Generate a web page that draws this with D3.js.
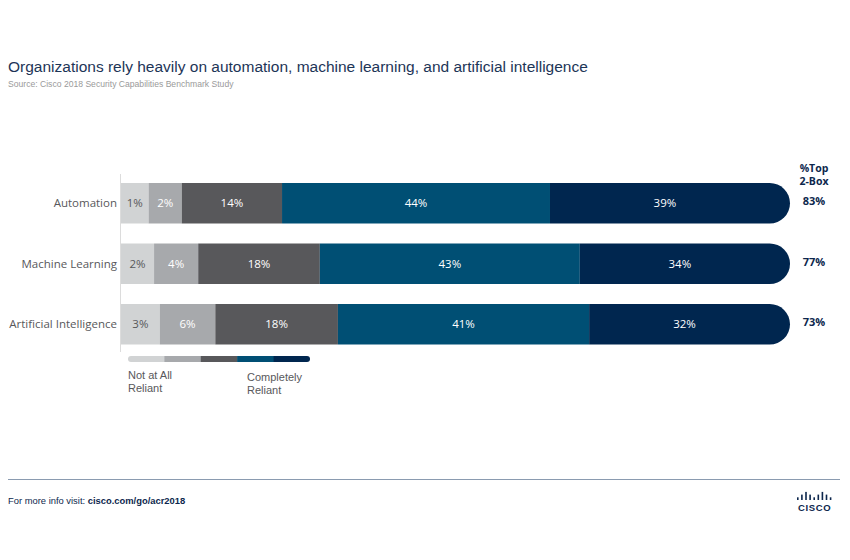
<!DOCTYPE html>
<html lang="en">
<head>
  <meta charset="UTF-8">
  <title>Organizations rely heavily on automation, machine learning, and artificial intelligence</title>
  <style>
    * {
      box-sizing: border-box;
      margin: 0;
    }
    body {
      background: #fff;
      font-family: "Liberation Sans", Arial, sans-serif;
    }
    svg {
      display: block;
    }
    .title {
      fill: #1d3557;
      font-size: 15.5px;
    }
    .subtitle {
      fill: #9a9a9a;
      font-size: 8.6px;
    }
    .cat {
      fill: #58585b;
      font: 11.5px "Open Sans", sans-serif;
    }
    .seg-label {
      font: 11.5px "Open Sans", sans-serif;
    }
    .top2 {
      fill: #0d274d;
      font: bold 11px "Open Sans", sans-serif;
    }
    .top2-head {
      fill: #0d274d;
      font: bold 10.5px "Open Sans", sans-serif;
    }
    .legend-text {
      fill: #58585b;
      font: 11px "Liberation Sans", Arial, sans-serif;
    }
    .footer {
      fill: #0d274d;
      font-size: 9.4px;
    }
  </style>
</head>
<body>
  <svg></svg>
  <script src="https://d3js.org/d3.v7.min.js"></script>
  <script>
    const categories = ['Automation', 'Machine Learning', 'Artificial Intelligence'];
    const levels = ['Not at All Reliant', '2', '3', '4', 'Completely Reliant'];
    const notAtAll = [1, 2, 3];
    const level2 = [2, 4, 6];
    const level3 = [14, 18, 18];
    const level4 = [44, 43, 41];
    const completely = [39, 34, 32];
    const topTwoBox = [83, 77, 73];
    const colors = ['#d1d3d4', '#a7a9ac', '#58585b', '#004f74', '#00264f'];
    const labelColors = ['#58585b', '#fff', '#fff', '#fff', '#fff'];
    const logoBars = [1, 2, 3, 2, 1, 2, 3, 2, 1];

    const width = 850;
    const height = 560;
    const svg = d3.select('svg')
      .attr('width', width)
      .attr('height', height);

    // title block
    svg.append('text').attr('class', 'title')
      .attr('x', 8).attr('y', 72)
      .text('Organizations rely heavily on automation, machine learning, and artificial intelligence');
    svg.append('text').attr('class', 'subtitle')
      .attr('x', 8).attr('y', 87)
      .text('Source: Cisco 2018 Security Capabilities Benchmark Study');

    const rows = categories.map((c, i) => ({
      name: c,
      values: [notAtAll[i], level2[i], level3[i], level4[i], completely[i]],
      top2: topTwoBox[i]
    }));

    const barLeft = 121;
    const barRight = 790;
    const minSeg = 22; // every segment keeps room for its label

    const y = d3.scaleBand()
      .domain(categories)
      .range([183, 344.5])
      .paddingInner(0.33);

    // vertical baseline
    svg.append('line')
      .attr('x1', barLeft - 0.5).attr('x2', barLeft - 0.5)
      .attr('y1', 174).attr('y2', 352)
      .attr('stroke', '#dcdcdc');

    const row = svg.selectAll('.row')
      .data(rows)
      .enter().append('g')
      .attr('class', 'row')
      .attr('transform', d => 'translate(0,' + y(d.name) + ')');

    row.append('text')
      .attr('class', 'cat')
      .attr('x', barLeft - 4)
      .attr('y', y.bandwidth() / 2)
      .attr('dy', '0.35em')
      .attr('text-anchor', 'end')
      .text(d => d.name);

    row.each(function(d) {
      const g = d3.select(this);
      const total = d3.sum(d.values);
      const x = d3.scaleLinear()
        .domain([0, total])
        .range([0, barRight - barLeft - minSeg * d.values.length]);
      const cum = d3.cumsum(d.values);
      const segs = d.values.map((v, i) => {
        const x0 = barLeft + i * minSeg + x(cum[i] - v);
        const x1 = barLeft + (i + 1) * minSeg + x(cum[i]);
        return {v, i, x0, x1};
      });
      const h = y.bandwidth();
      const r = h / 2;

      g.selectAll('.seg')
        .data(segs)
        .enter().append('path')
        .attr('class', 'seg')
        .attr('fill', s => colors[s.i])
        .attr('d', s => {
          if (s.i < segs.length - 1) {
            return 'M' + s.x0 + ',0H' + s.x1 + 'V' + h + 'H' + s.x0 + 'Z';
          }
          return 'M' + s.x0 + ',0H' + (s.x1 - r) +
            'A' + r + ',' + r + ' 0 0 1 ' + (s.x1 - r) + ',' + h +
            'H' + s.x0 + 'Z';
        });

      g.selectAll('.seg-label')
        .data(segs)
        .enter().append('text')
        .attr('class', 'seg-label')
        .attr('x', s => s.i === segs.length - 1 ? (s.x0 + s.x1 - r / 2) / 2 : (s.x0 + s.x1) / 2)
        .attr('y', h / 2)
        .attr('dy', '0.35em')
        .attr('text-anchor', 'middle')
        .attr('fill', s => labelColors[s.i])
        .text(s => s.v + '%');

      g.append('text')
        .attr('class', 'top2')
        .attr('x', 814)
        .attr('y', h / 2 - 2)
        .attr('dy', '0.35em')
        .attr('text-anchor', 'middle')
        .text(d.top2 + '%');
    });

    // %Top 2-Box header
    const head = svg.append('text')
      .attr('class', 'top2-head')
      .attr('text-anchor', 'middle');
    head.append('tspan').attr('x', 814).attr('y', 172).text('%Top');
    head.append('tspan').attr('x', 814).attr('y', 184.5).text('2-Box');

    // legend ramp
    const legendX = d3.scaleBand()
      .domain(levels)
      .range([128, 310]);
    svg.append('clipPath').attr('id', 'legend-clip')
      .append('rect')
      .attr('x', 128).attr('y', 356)
      .attr('width', 182).attr('height', 6)
      .attr('rx', 3);
    svg.append('g')
      .attr('clip-path', 'url(#legend-clip)')
      .selectAll('rect')
      .data(levels)
      .enter().append('rect')
      .attr('x', d => legendX(d))
      .attr('y', 356)
      .attr('width', legendX.bandwidth() + 0.5)
      .attr('height', 6)
      .attr('fill', (d, i) => colors[i]);

    const leftLegend = svg.append('text').attr('class', 'legend-text');
    leftLegend.append('tspan').attr('x', 128).attr('y', 379).text('Not at All');
    leftLegend.append('tspan').attr('x', 128).attr('y', 392).text('Reliant');
    const rightLegend = svg.append('text').attr('class', 'legend-text');
    rightLegend.append('tspan').attr('x', 247).attr('y', 381).text('Completely');
    rightLegend.append('tspan').attr('x', 247).attr('y', 394).text('Reliant');

    // footer
    svg.append('line')
      .attr('x1', 8).attr('x2', 840)
      .attr('y1', 479.5).attr('y2', 479.5)
      .attr('stroke', '#8a9bb0');
    const foot = svg.append('text').attr('class', 'footer')
      .attr('x', 8).attr('y', 504);
    foot.append('tspan').text('For more info visit: ');
    foot.append('tspan').attr('font-weight', 'bold').text('cisco.com/go/acr2018');

    // cisco mark
    const logo = svg.append('g').attr('transform', 'translate(797,500)');
    logo.selectAll('rect')
      .data(logoBars)
      .enter().append('rect')
      .attr('x', (d, i) => i * 4.1)
      .attr('y', d => -d * 2.7)
      .attr('width', 1.6)
      .attr('height', d => d * 2.7)
      .attr('fill', '#0d274d');
    logo.append('text')
      .attr('x', 17.6).attr('y', 10.5)
      .attr('text-anchor', 'middle')
      .attr('fill', '#0d274d')
      .attr('font-size', 9.5)
      .attr('font-weight', 'bold')
      .attr('letter-spacing', 0.6)
      .text('CISCO');
  </script>
</body>
</html>
